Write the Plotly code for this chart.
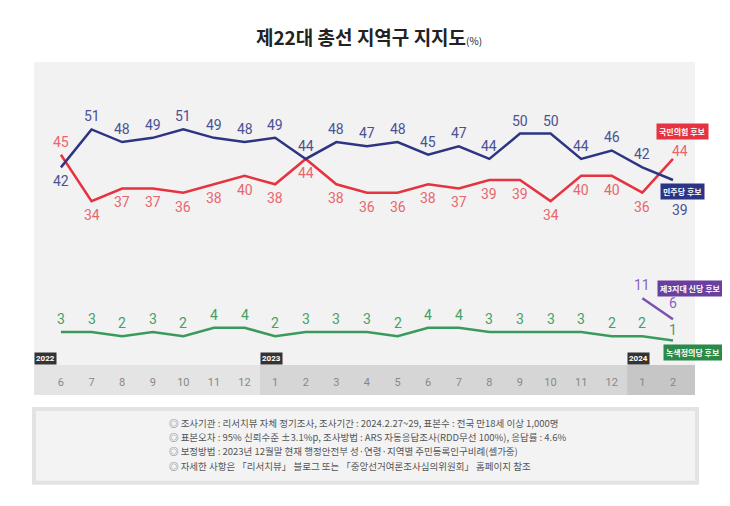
import plotly.graph_objects as go

# 월별 조사 (2022.6 ~ 2024.2)
months = ['6', '7', '8', '9', '10', '11', '12',
          '1', '2', '3', '4', '5', '6', '7', '8', '9', '10', '11', '12',
          '1', '2']
years = ['2022', '2023', '2024']
ppp = [45, 34, 37, 37, 36, 38, 40, 38, 44, 38, 36, 36, 38, 37, 39, 39, 34, 40, 40, 36, 44]
dem = [42, 51, 48, 49, 51, 49, 48, 49, 44, 48, 47, 48, 45, 47, 44, 50, 50, 44, 46, 42, 39]
justice = [3, 3, 2, 3, 2, 4, 4, 2, 3, 3, 3, 2, 4, 4, 3, 3, 3, 3, 2, 2, 1]
third = [11, 6]  # 2024.1, 2024.2

notes = [
    '◎ 조사기관 : 리서치뷰 자체 정기조사, 조사기간 : 2024.2.27~29, 표본수 : 전국 만18세 이상 1,000명',
    '◎ 표본오차 : 95% 신뢰수준 ±3.1%p, 조사방법 : ARS 자동응답조사(RDD무선 100%), 응답률 : 4.6%',
    '◎ 보정방법 : 2023년 12월말 현재 행정안전부 성·연령·지역별 주민등록인구비례(셀가중)',
    '◎ 자세한 사항은 「리서치뷰」 블로그 또는 「중앙선거여론조사심의위원회」 홈페이지 참조',
]

x = list(range(len(months)))
x_third = x[-len(third):]

RED, RED_TXT = '#e5333f', '#e8676e'
BLUE, BLUE_TXT = '#2d3582', '#4b5192'
GREEN, GREEN_TXT = '#3a9a5c', '#45a065'
PURPLE, PURPLE_TXT = '#7a52b0', '#8a62c0'
NUM_FONT = 'Roboto'

fig = go.Figure()
fig.add_trace(go.Scatter(x=x, y=ppp, mode='lines', line=dict(color=RED, width=2.5)))
fig.add_trace(go.Scatter(x=x, y=dem, mode='lines', line=dict(color=BLUE, width=2.5)))
fig.add_trace(go.Scatter(x=x, y=justice, mode='lines', line=dict(color=GREEN, width=2.5)))
fig.add_trace(go.Scatter(x=x_third, y=third, mode='lines', line=dict(color=PURPLE, width=2.5)))

ann = []


def num(xv, yv, color, dy, dx=0):
    ann.append(dict(x=xv, y=yv, text=str(yv), showarrow=False, xshift=dx, yshift=dy,
                    font=dict(family=NUM_FONT, size=14, color=color)))


last = len(x) - 1
for i in x:
    if i == last:
        num(i, ppp[i], RED_TXT, 8, 7)
        num(i, dem[i], BLUE_TXT, -30, 7)
        continue
    if dem[i] >= ppp[i]:
        num(i, dem[i], BLUE_TXT, 13)
        num(i, ppp[i], RED_TXT, -14)
    else:
        num(i, ppp[i], RED_TXT, 13)
        num(i, dem[i], BLUE_TXT, -14)
    num(i, justice[i], GREEN_TXT, 13)
num(last, justice[last], GREEN_TXT, 10)
num(x_third[0], third[0], PURPLE_TXT, 13)
num(x_third[1], third[1], PURPLE_TXT, 16)


def tag(xv, yv, text, color, dx):
    ann.append(dict(x=xv, y=yv, text='<b>' + text + '</b>', showarrow=False, xshift=dx,
                    bgcolor=color, borderpad=2,
                    font=dict(family='Noto Sans CJK KR', size=8, color='white')))


tag(last, 50.4, '국민의힘 후보', RED, 10)
tag(last, 36.2, '민주당 후보', '#2b3585', 10)
tag(last, 13.4, '제3지대 신당 후보', '#6b3fa0', 18)
tag(last, -1.8, '녹색정의당 후보', '#2a8a4a', 20)

# 연도 구분 띠
starts = [-0.88] + [i - 0.5 for i in x if months[i] == '1' and i > 0]
ends = starts[1:] + [20.72]
band_colors = ['#e4e4e4', '#d6d6d6', '#c6c6c6']
shapes = []
for s, e, c, yr in zip(starts, ends, band_colors, years):
    shapes.append(dict(type='rect', xref='x', yref='paper', x0=s, x1=e, y0=-0.099, y1=0,
                       fillcolor=c, line_width=0, layer='below'))
    ann.append(dict(x=s, y=0, xref='x', yref='paper', xanchor='left', yanchor='bottom',
                    text='<b>' + yr + '</b>', showarrow=False, bgcolor='#333333', borderpad=1,
                    font=dict(family='Roboto', size=8, color='white')))

# 조사 개요 박스
shapes.append(dict(type='rect', xref='paper', yref='paper', x0=0, x1=1.003, y0=-0.389, y1=-0.145,
                   fillcolor='#f3f3f3', line=dict(color='#e3e3e3', width=4), layer='below'))
for k, line in enumerate(notes):
    ann.append(dict(x=0.201, y=-0.191 - k * 0.047, xref='paper', yref='paper', xanchor='left',
                    yanchor='middle', text=line, showarrow=False,
                    font=dict(family='Noto Sans CJK KR', size=9.5, color='#555555')))

# 페이지 기본 여백(8px)을 빼고 맞춤
fig.update_layout(
    width=722, height=498,
    margin=dict(l=26, r=35, t=54, b=141),
    paper_bgcolor='white', plot_bgcolor='#f2f2f2',
    showlegend=False,
    title=dict(text='<b>제22대 총선 지역구 지지도</b><span style="font-size:10px">(%)</span>',
               x=0.5, xanchor='center', y=1 - 30 / 498, yanchor='middle',
               font=dict(family='Noto Sans CJK KR', size=19, color='#222222')),
    xaxis=dict(range=[-0.88, 20.72], tickvals=x, ticktext=months, showgrid=False,
               zeroline=False, showline=False, ticks='', ticklabelstandoff=9,
               tickfont=dict(family='Roboto', size=11, color='#888888')),
    yaxis=dict(range=[-4.83, 66.97], visible=False),
    annotations=ann,
    shapes=shapes,
)

fig.write_html('out.html')
